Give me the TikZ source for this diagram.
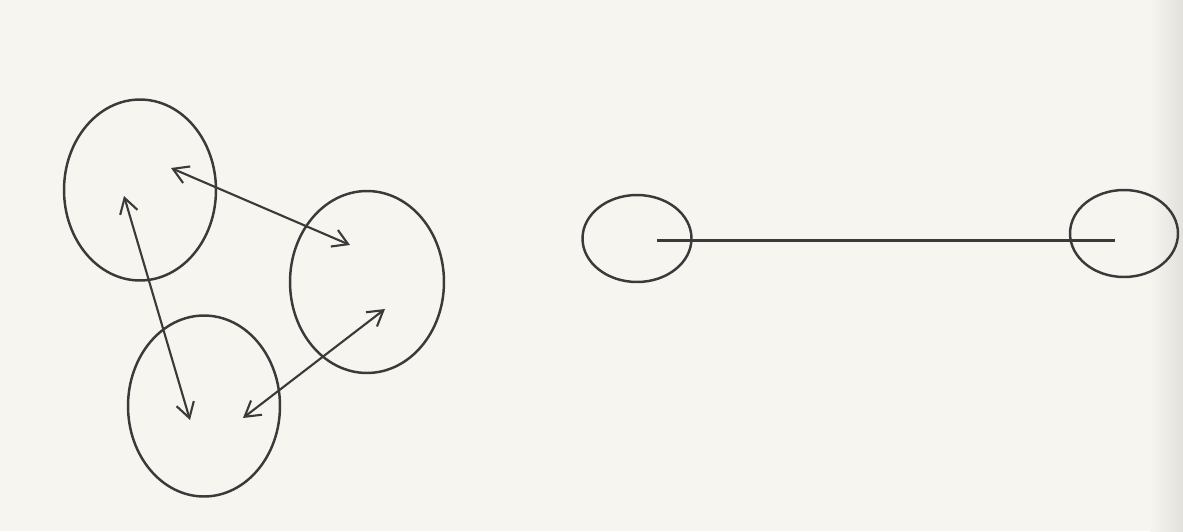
\documentclass[tikz,border=0pt]{standalone}
\usepackage{tikz}
\usetikzlibrary{
  arrows.meta,
  shapes.geometric,
  positioning,
  calc
}
\definecolor{skPaper}{HTML}{F6F5F0}
\definecolor{skShade}{HTML}{E2E1DC}
\definecolor{skInk}{HTML}{3A3A3A}
\tikzset{
  blob/.style={
    draw=skInk, ellipse, line width=1.4pt, inner sep=0pt
  },
  bigblob/.style={blob, minimum width=3.04cm, minimum height=3.62cm},
  smallblob/.style={blob, minimum width=2.18cm, minimum height=1.74cm},
  pull/.style={{Straight Barb[length=3mm, width=3.6mm]}-{Straight Barb[length=3mm, width=3.6mm]},
    line width=1.2pt, skInk},
  tie/.style={line width=1.4pt, skInk}
}

\begin{document}
\begin{tikzpicture}[x=0.02cm, y=-0.02cm]
  % page
  \fill[skPaper] (0,0) rectangle (1183,531);
  \shade[left color=skPaper, right color=skShade] (1150,0) rectangle (1183,531);
  \useasboundingbox (0,0) rectangle (1183,531);

  % three linked bodies
  \node[bigblob] (a) at (140,190) {};
  \node[bigblob, minimum width=3.08cm, minimum height=3.64cm] (b) at (367,282) {};
  \node[bigblob] (c) at (204,406) {};

  \coordinate (ab) at (171,168);
  \coordinate (ba) at (350,245);
  \coordinate (ac) at (124,196);
  \coordinate (ca) at (190,420);
  \coordinate (bc) at (385,309);
  \coordinate (cb) at (243,418);

  \draw[pull] (ab) -- (ba);
  \draw[pull] (ac) -- (ca);
  \draw[pull] (bc) -- (cb);

  % two bodies far apart
  \node[smallblob] (d) at (637,238.5) {};
  \node[smallblob, minimum width=2.16cm] (e) at (1124,233.5) {};

  \coordinate (de) at (657,240.5);
  \coordinate (ed) at (1115,240.5);
  \draw[tie] (de) -- (ed);
\end{tikzpicture}
\end{document}
